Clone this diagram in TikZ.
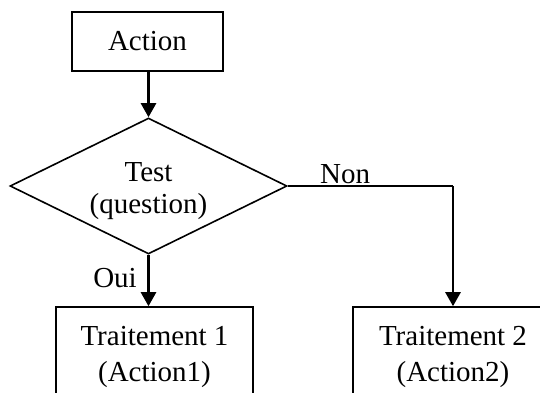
\documentclass[tikz,border=0pt]{standalone}
\usepackage{fontspec}
\setmainfont{Liberation Serif}
\usetikzlibrary{shapes.geometric, arrows.meta}

\begin{document}
\begin{tikzpicture}[x=1pt, y=-1pt,
        every node/.style={font=\fontsize{29}{36}\selectfont},
        bloc/.style={draw, line width=1.6pt, inner sep=0pt, align=center},
        fleche/.style={line width=2.6pt, -{Triangle[length=14pt, width=15pt]}}]
        \useasboundingbox (0,0) rectangle (540,392);
        % les blocs
        \node[bloc, minimum width=151, minimum height=59] (action) at (147.5,41.5) {Action};
        \node[draw, diamond, line width=1.6pt, inner sep=0pt, minimum width=277, minimum height=136] (test) at (148.5,186) {};
        \node[align=center, inner sep=0pt] (testtxt) at (148.5,191) {Test\\[-4pt](question)};
        \node[bloc, minimum width=197, minimum height=100] (trait1) at (154.5,357) {Traitement 1\\(Action1)};
        \node[bloc, minimum width=200, minimum height=100] (trait2) at (453,357) {Traitement 2\\(Action2)};
        % les liaisons
        \draw[fleche] (action.south -| test.north) -- (test.north);
        \draw[fleche] (test.south) -- (test.south |- trait1.north);
        \draw[line width=1.6pt] (test.east) -- (trait2.north |- test.east) coordinate (coin);
        \draw[fleche] (coin) -- (trait2.north);
        %\draw[fleche] (test.east) -| (trait2.north);
        \node[anchor=base east, inner sep=0pt] (oui) at (137,287) {Oui};
        \node[anchor=base west, inner sep=0pt] (non) at (320,183) {Non};
\end{tikzpicture}
\end{document}
